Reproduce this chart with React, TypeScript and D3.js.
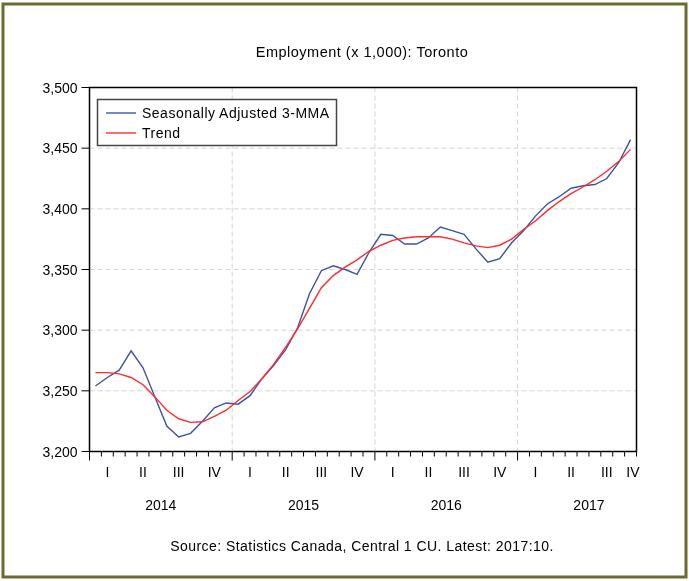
import * as React from 'react';
import {scaleLinear, line, range} from 'd3';

// monthly, Jan 2014 .. Oct 2017
const sa3mma = [
    3254, 3261, 3267, 3283, 3269, 3245, 3221, 3212, 3215, 3225, 3236, 3240,
    3239, 3246, 3260, 3271, 3284, 3302, 3330, 3349, 3353, 3350, 3346, 3364,
    3379, 3378, 3371, 3371, 3376, 3385, 3382, 3379, 3367, 3356, 3359, 3372,
    3382, 3394, 3404, 3410, 3417, 3419, 3420, 3425, 3438, 3457
];
const trend = [
    3265, 3265, 3264, 3261, 3255, 3245, 3234, 3227, 3224, 3224.5, 3229, 3234,
    3242, 3249.5, 3260, 3272, 3286, 3301, 3318, 3335, 3345, 3352, 3358, 3365,
    3370, 3374, 3376, 3377, 3377, 3377, 3375, 3372, 3369.5, 3368, 3370, 3375,
    3383, 3390, 3398.5, 3406, 3412.5, 3418, 3424, 3431, 3439, 3449
];
const years = ['2014', '2015', '2016', '2017'];
const quarters = ['I', 'II', 'III', 'IV'];
const yTicks = [3200, 3250, 3300, 3350, 3400, 3450, 3500];

const W = 689;
const H = 581;
const left = 89.5;
const right = 636.5;
const top = 87.5;
const bottom = 451.5;
const nMonths = 46;

const xScale = scaleLinear().domain([0, nMonths]).range([left, right]);
const yScale = scaleLinear().domain([3200, 3500]).range([bottom, top]);

const font = '"Liberation Sans", Arial, sans-serif';
const blue = '#3b53a6';
const red = '#ff2b2b';

const mkLine = line<number>()
    .x((_, i) => xScale(i + 0.5))
    .y(d => yScale(d));

export default function App() {
    const fmt = (v: number) => v.toLocaleString('en-US');
    const gridV = years.slice(1).map((_, i) => xScale((i + 1) * 12));
    return (
        <svg width={W} height={H} style={{position: 'absolute', left: 0, top: 0, background: '#fff'}}
             fontFamily={font} fontSize={14}>
            <defs>
                <filter id="gray-aa" x="0" y="0" width="1" height="1">
                    <feOffset dx={0} dy={0}/>
                </filter>
            </defs>
            <rect x={3} y={4} width={683} height={573} fill="none" stroke="#6b6a30" strokeWidth={3}/>

            {/* grid */}
            {yTicks.slice(1, -1).map(t =>
                <line key={'gy' + t} x1={left} x2={right} y1={yScale(t)} y2={yScale(t)}
                      stroke="#d4d4d4" strokeDasharray="5,3"/>
            )}
            {gridV.map((x, i) =>
                <line key={'gx' + i} x1={x} x2={x} y1={top} y2={bottom}
                      stroke="#d4d4d4" strokeDasharray="5,3"/>
            )}

            {/* y axis */}
            {yTicks.map(t =>
                <line key={'yt' + t} x1={left - 8} x2={left} y1={yScale(t)} y2={yScale(t)} stroke="#000"/>
            )}

            {/* x axis ticks */}
            {range(nMonths + 1).map(m =>
                <line key={'xt' + m} x1={xScale(m)} x2={xScale(m)} y1={bottom}
                      y2={bottom + (m % 12 === 0 ? 9 : 5)} stroke="#000"/>
            )}

            {/* series */}
            <path d={mkLine(sa3mma) || ''} fill="none" stroke={blue} strokeWidth={1.4}/>
            <path d={mkLine(trend) || ''} fill="none" stroke={red} strokeWidth={1.4}/>

            {/* frame */}
            <rect x={left} y={top} width={right - left} height={bottom - top} fill="none" stroke="#000" strokeWidth={1.5}/>

            {/* legend */}
            <rect x={97.5} y={99.5} width={239} height={46} fill="#fff" stroke="#444" strokeWidth={1.5}/>
            <line x1={106} x2={136} y1={113} y2={113} stroke={blue} strokeWidth={1.4}/>
            <line x1={106} x2={136} y1={133} y2={133} stroke={red} strokeWidth={1.4}/>

            {/* all text in one group */}
            <g filter="url(#gray-aa)">
                <text x={362} y={57} textAnchor="middle" fontSize={14.5} letterSpacing={0.5}>Employment (x 1,000): Toronto</text>
                {yTicks.map(t =>
                    <text key={'yl' + t} x={left - 12} y={yScale(t) + 5} textAnchor="end">{fmt(t)}</text>
                )}
                {years.map((yr, yi) => quarters.map((q, qi) => {
                    const mid = Math.min(yi * 12 + qi * 3 + 1.5, nMonths - 0.3);
                    return <text key={yr + q} x={xScale(mid)} y={477} textAnchor="middle">{q}</text>;
                }))}
                {years.map((yr, yi) =>
                    <text key={yr} x={xScale(yi * 12 + 6)} y={510} textAnchor="middle">{yr}</text>
                )}
                <text x={142} y={118} letterSpacing={0.5}>Seasonally Adjusted 3-MMA</text>
                <text x={142} y={138} letterSpacing={0.5}>Trend</text>
                <text x={362} y={551} textAnchor="middle" letterSpacing={0.45}>Source: Statistics Canada, Central 1 CU. Latest: 2017:10.</text>
            </g>
        </svg>
    );
}
